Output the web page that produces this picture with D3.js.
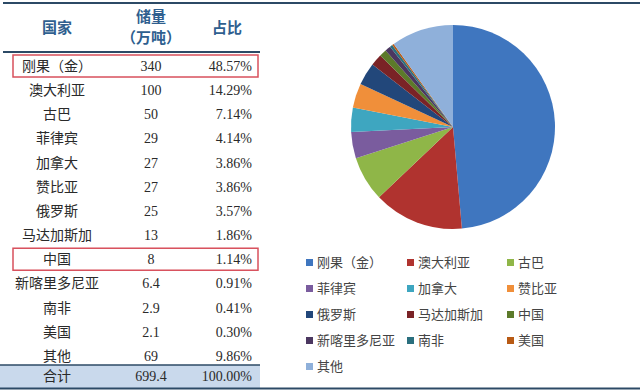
<!DOCTYPE html>
<html>
<head>
<meta charset="utf-8">
<script src="https://cdn.jsdelivr.net/npm/d3@7"></script>
<style>
  body { margin: 0; background: #fff; }
  svg text { font-family: "Liberation Serif", "Noto Sans CJK SC", serif; }
</style>
</head>
<body>
<div id="chart"></div>
<script>
// data
const countries = ["刚果（金）", "澳大利亚", "古巴", "菲律宾", "加拿大", "赞比亚", "俄罗斯",
  "马达加斯加", "中国", "新喀里多尼亚", "南非", "美国", "其他"];
const legendNames = ["刚果（金）", "澳大利亚", "古巴", "菲律宾", "加拿大", "赞比亚", "俄罗斯",
  "马达加斯加", "中国", "新喀里多尼亚", "南非", "美国", "其他"];
const reserves = [340, 100, 50, 29, 27, 27, 25, 13, 8, 6.4, 2.9, 2.1, 69];
const shares = ["48.57%", "14.29%", "7.14%", "4.14%", "3.86%", "3.86%", "3.57%",
  "1.86%", "1.14%", "0.91%", "0.41%", "0.30%", "9.86%"];
const totalRow = ["合计", "699.4", "100.00%"];
const headers = ["国家", "储量", "（万吨）", "占比"];
const highlighted = ["刚果（金）", "中国"];
const colors = ["#3f76bf", "#b0332f", "#8fb648", "#7a5c9e", "#3ea6c0", "#f08f3a", "#22477a",
  "#7a2326", "#5c7a2a", "#4b3760", "#2a6f7e", "#b85a14", "#8fb0da"];

const W = 640, H = 392;
const svg = d3.select("#chart").append("svg")
  .attr("width", W).attr("height", H);

const lineColor = "#2c4a66";
const headColor = "#2f5f8f";

// ---- table ----
const rowY = d3.scaleLinear().domain([0, 13]).range([66, 380]);
const colCountry = 57, colValue = 151, colShare = 252;

// total row background
svg.append("rect")
  .attr("x", 0).attr("y", 365).attr("width", 260).attr("height", 23)
  .attr("fill", "#c9d9ec");

// lines
svg.append("line").attr("x1", 3).attr("x2", W).attr("y1", 3).attr("y2", 3)
  .attr("stroke", lineColor).attr("stroke-width", 2);
svg.append("line").attr("x1", 3).attr("x2", 260).attr("y1", 52).attr("y2", 52)
  .attr("stroke", lineColor).attr("stroke-width", 2);
svg.append("line").attr("x1", 0).attr("x2", 260).attr("y1", 365).attr("y2", 365)
  .attr("stroke", lineColor).attr("stroke-width", 1.5);
svg.append("line").attr("x1", 0).attr("x2", W).attr("y1", 388.5).attr("y2", 388.5)
  .attr("stroke", lineColor).attr("stroke-width", 2);

// header
const head = svg.append("g").attr("fill", headColor)
  .attr("font-size", 15).attr("font-weight", "bold").attr("text-anchor", "middle");
head.append("text").attr("x", colCountry).attr("y", 33).text(headers[0]);
head.append("text").attr("x", colValue).attr("y", 22).text(headers[1]);
head.append("text").attr("x", colValue).attr("y", 43).text(headers[2]);
head.append("text").attr("x", 227).attr("y", 33).text(headers[3]);

// body rows
const rows = svg.append("g").selectAll("g")
  .data(countries.map((c, i) => ({ c, v: reserves[i], s: shares[i], i })))
  .join("g")
  .attr("transform", d => `translate(0,${rowY(d.i)})`)
  .attr("font-size", 14).attr("fill", "#2a2a2a");
rows.append("text").attr("x", colCountry).attr("y", 5).attr("text-anchor", "middle").text(d => d.c);
rows.append("text").attr("x", colValue).attr("y", 5).attr("text-anchor", "middle").text(d => d.v);
rows.append("text").attr("x", colShare).attr("y", 5).attr("text-anchor", "end").text(d => d.s);

// red boxes
rows.filter(d => highlighted.includes(d.c)).append("rect")
  .attr("x", 13).attr("y", -11).attr("width", 245).attr("height", 22)
  .attr("fill", "none").attr("stroke", "#d8505c").attr("stroke-width", 1.5);

// total row
const tot = svg.append("g").attr("font-size", 14).attr("fill", "#2a2a2a");
tot.append("text").attr("x", colCountry).attr("y", 381).attr("text-anchor", "middle").text(totalRow[0]);
tot.append("text").attr("x", colValue).attr("y", 381).attr("text-anchor", "middle").text(totalRow[1]);
tot.append("text").attr("x", colShare).attr("y", 381).attr("text-anchor", "end").text(totalRow[2]);

// ---- pie ----
const color = d3.scaleOrdinal().domain(countries).range(colors);
const pie = d3.pie().sort(null).value(d => d.v);
const arc = d3.arc().innerRadius(0).outerRadius(102);
const pieData = countries.map((c, i) => ({ c, v: reserves[i] }));

svg.append("g").attr("transform", "translate(453,127)")
  .selectAll("path")
  .data(pie(pieData))
  .join("path")
  .attr("d", arc)
  .attr("fill", d => color(d.data.c));

// ---- legend ----
const legX = [309, 410, 510];
const legY = d3.scaleLinear().domain([0, 4]).range([262, 366]);
const leg = svg.append("g").selectAll("g")
  .data(legendNames.map((n, i) => ({ n, i })))
  .join("g")
  .attr("transform", d => `translate(${legX[d.i % 3]},${legY(Math.floor(d.i / 3))})`);
leg.append("rect").attr("x", -3).attr("y", -3).attr("width", 7).attr("height", 7)
  .attr("fill", d => color(countries[d.i]));
leg.append("text").attr("x", 8).attr("y", 5)
  .attr("font-size", 13).attr("fill", "#444")
  .text(d => d.n);
</script>
</body>
</html>
